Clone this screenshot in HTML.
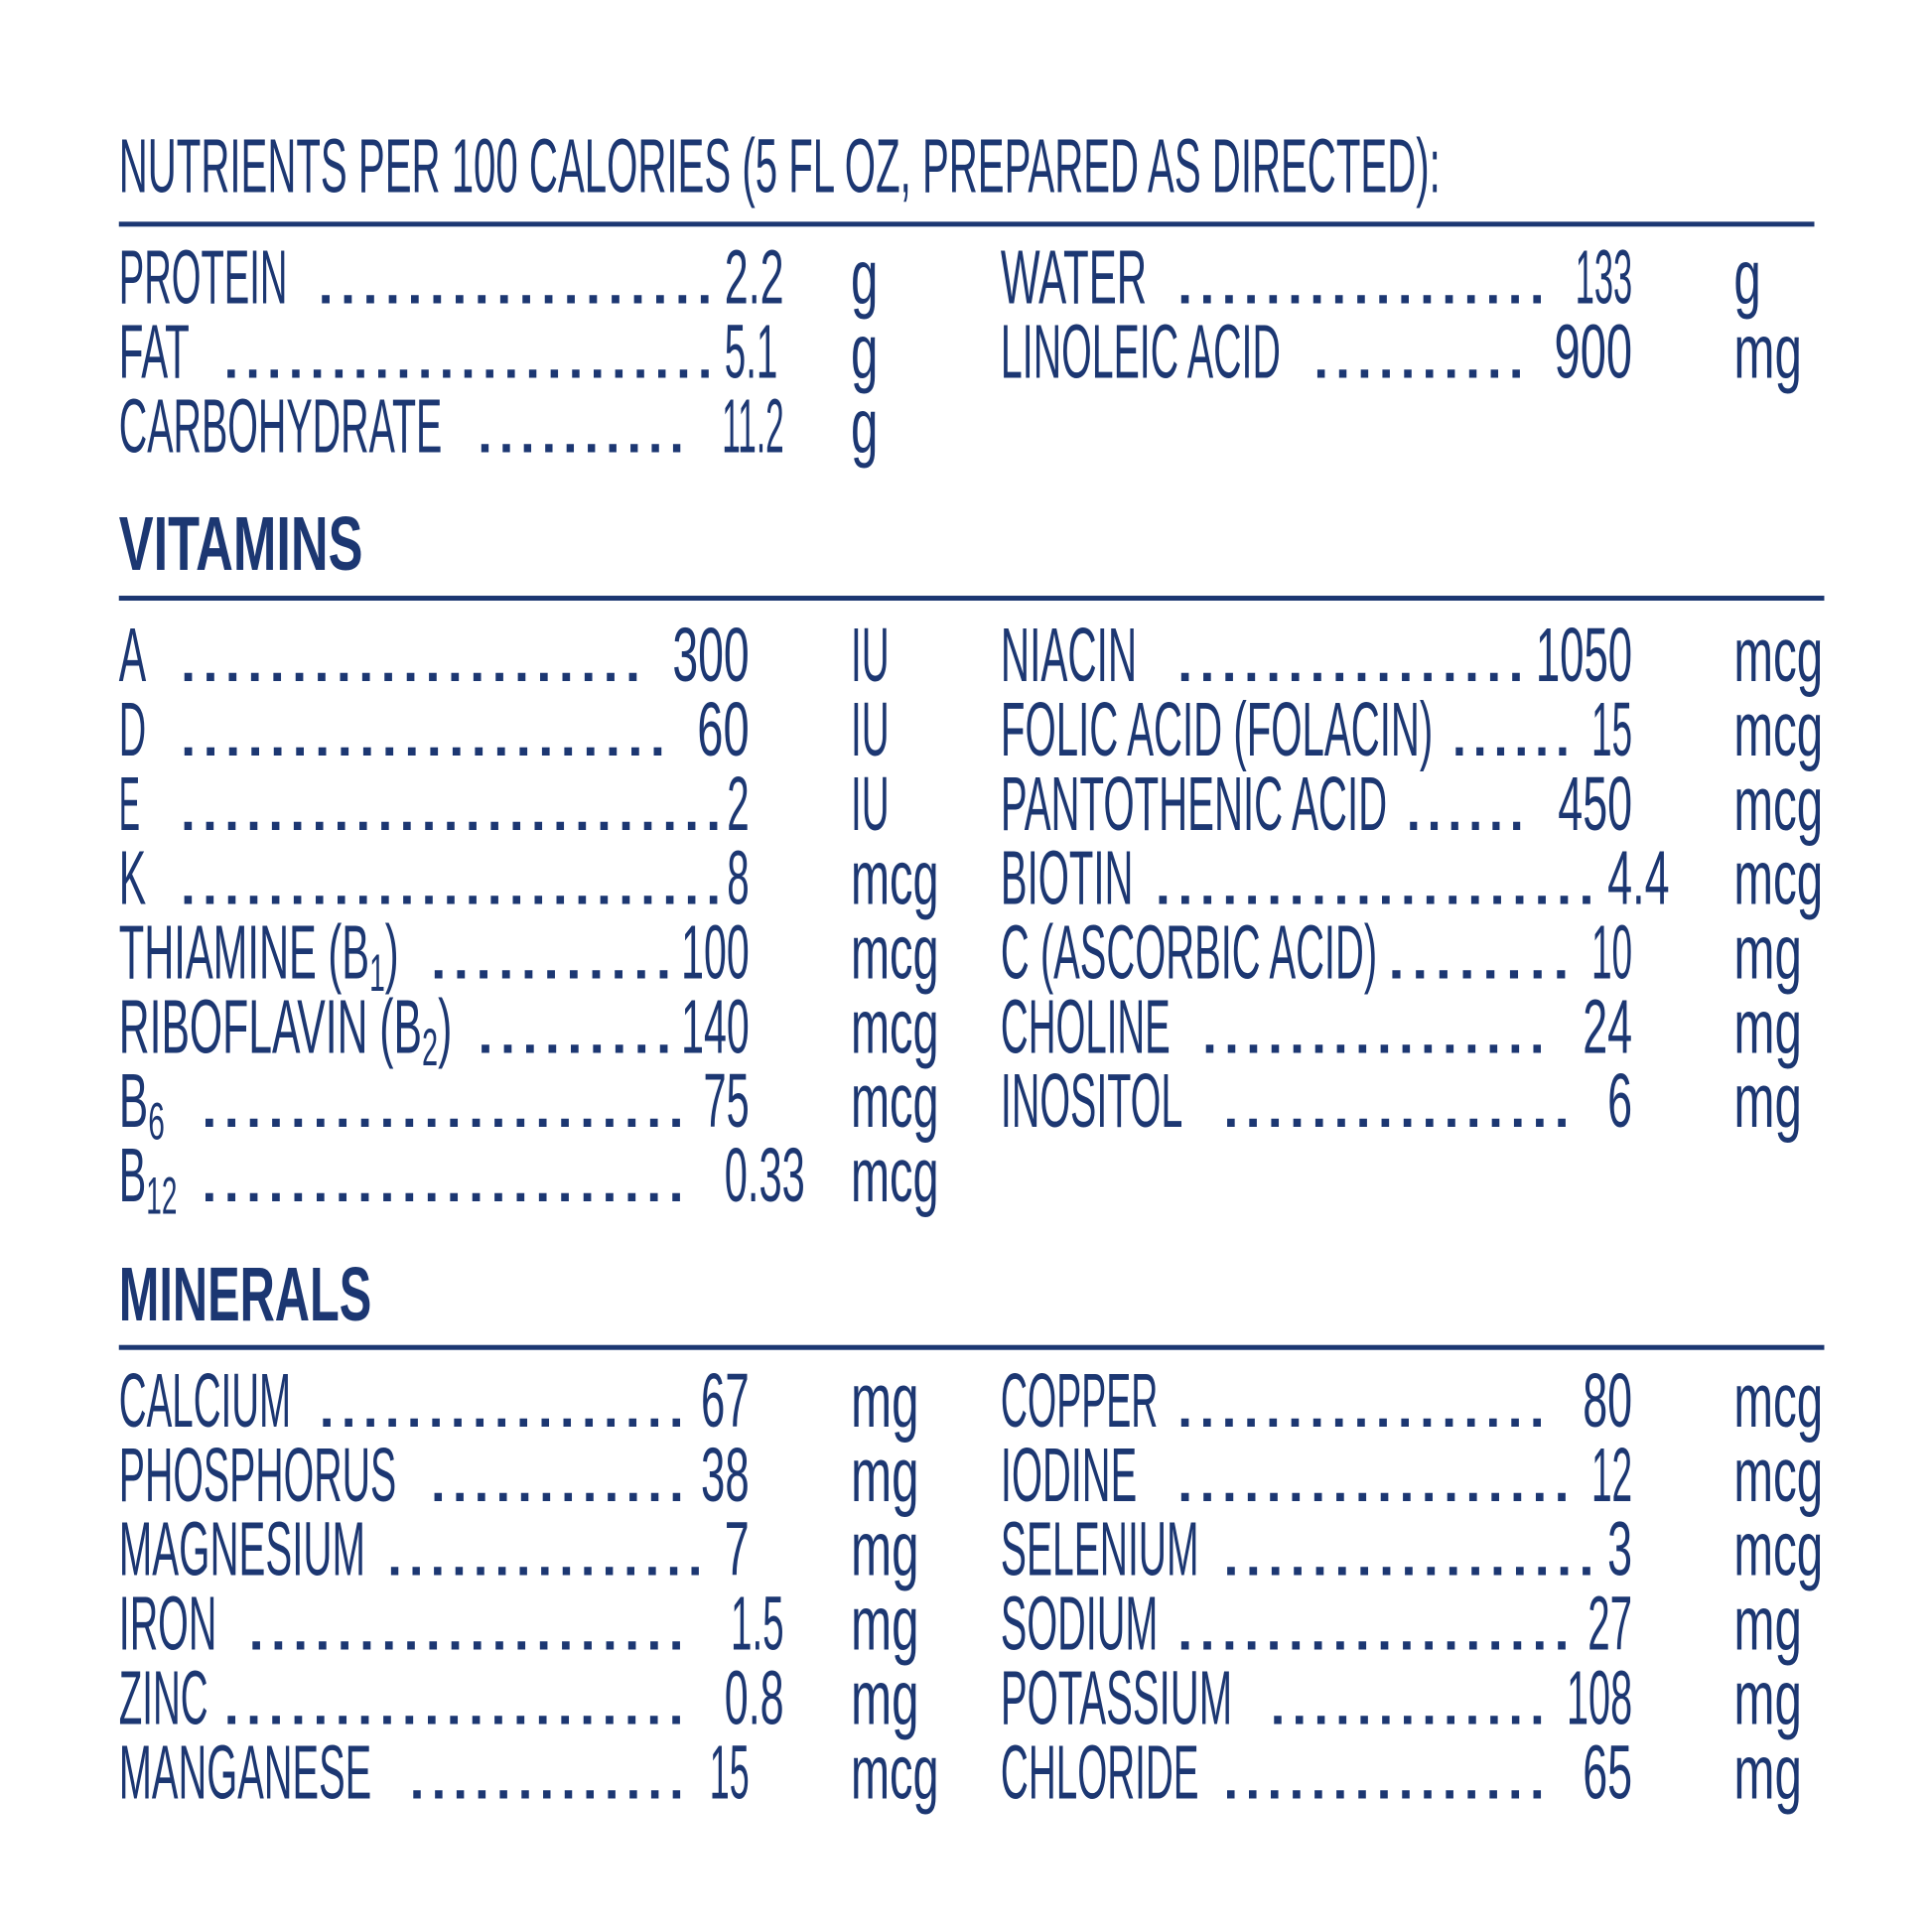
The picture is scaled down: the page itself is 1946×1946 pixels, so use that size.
<!DOCTYPE html>
<html><head><meta charset="utf-8"><style>
html,body{margin:0;padding:0;background:#fff;}
svg{display:block}
text{font-family:"Liberation Sans Narrow","Liberation Sans",sans-serif;font-size:62px;fill:#1c3772;}
.b{font-weight:bold}
</style></head><body>
<svg width="1946" height="1946" viewBox="0 0 1560 1560" xmlns="http://www.w3.org/2000/svg">
<rect width="1560" height="1560" fill="#fff"/>
<g lengthAdjust="spacingAndGlyphs">
<text x="96" y="155" textLength="1067" lengthAdjust="spacingAndGlyphs">NUTRIENTS PER 100 CALORIES (5 FL OZ, PREPARED AS DIRECTED):</text>
<rect x="96" y="179" width="1369" height="4" fill="#1c3772"/>

<text x="96" y="245" textLength="136" lengthAdjust="spacingAndGlyphs">PROTEIN</text>
<text x="254" y="245" textLength="324" lengthAdjust="spacingAndGlyphs">..................</text>
<text x="585" y="245" textLength="48" lengthAdjust="spacingAndGlyphs">2.2</text>
<text x="687" y="245" textLength="22" lengthAdjust="spacingAndGlyphs">g</text>
<text x="96" y="305" textLength="57" lengthAdjust="spacingAndGlyphs">FAT</text>
<text x="178" y="305" textLength="400" lengthAdjust="spacingAndGlyphs">.......................</text>
<text x="585" y="305" textLength="43" lengthAdjust="spacingAndGlyphs">5.1</text>
<text x="687" y="305" textLength="22" lengthAdjust="spacingAndGlyphs">g</text>
<text x="96" y="365" textLength="261" lengthAdjust="spacingAndGlyphs">CARBOHYDRATE</text>
<text x="383" y="365" textLength="172" lengthAdjust="spacingAndGlyphs">..........</text>
<text x="583" y="365" textLength="50" lengthAdjust="spacingAndGlyphs">11.2</text>
<text x="687" y="365" textLength="22" lengthAdjust="spacingAndGlyphs">g</text>

<text x="808" y="245" textLength="118" lengthAdjust="spacingAndGlyphs">WATER</text>
<text x="948" y="245" textLength="302" lengthAdjust="spacingAndGlyphs">.................</text>
<text x="1272" y="245" textLength="46" lengthAdjust="spacingAndGlyphs">133</text>
<text x="1400" y="245" textLength="22" lengthAdjust="spacingAndGlyphs">g</text>
<text x="808" y="305" textLength="226" lengthAdjust="spacingAndGlyphs">LINOLEIC ACID</text>
<text x="1058" y="305" textLength="175" lengthAdjust="spacingAndGlyphs">..........</text>
<text x="1255" y="305" textLength="63" lengthAdjust="spacingAndGlyphs">900</text>
<text x="1400" y="305" textLength="55" lengthAdjust="spacingAndGlyphs">mg</text>

<text class="b" x="96" y="460" textLength="197" lengthAdjust="spacingAndGlyphs">VITAMINS</text>
<rect x="96" y="481" width="1377" height="4" fill="#1c3772"/>

<text x="96" y="550" textLength="22" lengthAdjust="spacingAndGlyphs">A</text>
<text x="143" y="550" textLength="377" lengthAdjust="spacingAndGlyphs">.....................</text>
<text x="543" y="550" textLength="62" lengthAdjust="spacingAndGlyphs">300</text>
<text x="687" y="550" textLength="31" lengthAdjust="spacingAndGlyphs">IU</text>
<text x="96" y="610" textLength="22" lengthAdjust="spacingAndGlyphs">D</text>
<text x="143" y="610" textLength="397" lengthAdjust="spacingAndGlyphs">......................</text>
<text x="563" y="610" textLength="42" lengthAdjust="spacingAndGlyphs">60</text>
<text x="687" y="610" textLength="31" lengthAdjust="spacingAndGlyphs">IU</text>
<text x="96" y="670" textLength="17" lengthAdjust="spacingAndGlyphs">E</text>
<text x="143" y="670" textLength="442" lengthAdjust="spacingAndGlyphs">.........................</text>
<text x="587" y="670" textLength="18" lengthAdjust="spacingAndGlyphs">2</text>
<text x="687" y="670" textLength="31" lengthAdjust="spacingAndGlyphs">IU</text>
<text x="96" y="730" textLength="22" lengthAdjust="spacingAndGlyphs">K</text>
<text x="143" y="730" textLength="442" lengthAdjust="spacingAndGlyphs">.........................</text>
<text x="587" y="730" textLength="18" lengthAdjust="spacingAndGlyphs">8</text>
<text x="687" y="730" textLength="71" lengthAdjust="spacingAndGlyphs">mcg</text>
<text x="96" y="790" textLength="226" lengthAdjust="spacingAndGlyphs">THIAMINE (B<tspan font-size="42" dy="10">1</tspan><tspan dy="-10">)</tspan></text>
<text x="345" y="790" textLength="200" lengthAdjust="spacingAndGlyphs">...........</text>
<text x="550" y="790" textLength="55" lengthAdjust="spacingAndGlyphs">100</text>
<text x="687" y="790" textLength="71" lengthAdjust="spacingAndGlyphs">mcg</text>
<text x="96" y="850" textLength="269" lengthAdjust="spacingAndGlyphs">RIBOFLAVIN (B<tspan font-size="42" dy="10">2</tspan><tspan dy="-10">)</tspan></text>
<text x="383" y="850" textLength="162" lengthAdjust="spacingAndGlyphs">.........</text>
<text x="550" y="850" textLength="55" lengthAdjust="spacingAndGlyphs">140</text>
<text x="687" y="850" textLength="71" lengthAdjust="spacingAndGlyphs">mcg</text>
<text x="96" y="910" textLength="37" lengthAdjust="spacingAndGlyphs">B<tspan font-size="42" dy="10">6</tspan></text>
<text x="160" y="910" textLength="395" lengthAdjust="spacingAndGlyphs">......................</text>
<text x="568" y="910" textLength="37" lengthAdjust="spacingAndGlyphs">75</text>
<text x="687" y="910" textLength="71" lengthAdjust="spacingAndGlyphs">mcg</text>
<text x="96" y="970" textLength="47" lengthAdjust="spacingAndGlyphs">B<tspan font-size="42" dy="10">12</tspan></text>
<text x="160" y="970" textLength="395" lengthAdjust="spacingAndGlyphs">......................</text>
<text x="585" y="970" textLength="65" lengthAdjust="spacingAndGlyphs">0.33</text>
<text x="687" y="970" textLength="71" lengthAdjust="spacingAndGlyphs">mcg</text>

<text x="808" y="550" textLength="110" lengthAdjust="spacingAndGlyphs">NIACIN</text>
<text x="948" y="550" textLength="285" lengthAdjust="spacingAndGlyphs">................</text>
<text x="1240" y="550" textLength="78" lengthAdjust="spacingAndGlyphs">1050</text>
<text x="1400" y="550" textLength="72" lengthAdjust="spacingAndGlyphs">mcg</text>
<text x="808" y="610" textLength="349" lengthAdjust="spacingAndGlyphs">FOLIC ACID (FOLACIN)</text>
<text x="1170" y="610" textLength="100" lengthAdjust="spacingAndGlyphs">......</text>
<text x="1285" y="610" textLength="33" lengthAdjust="spacingAndGlyphs">15</text>
<text x="1400" y="610" textLength="72" lengthAdjust="spacingAndGlyphs">mcg</text>
<text x="808" y="670" textLength="312" lengthAdjust="spacingAndGlyphs">PANTOTHENIC ACID</text>
<text x="1133" y="670" textLength="100" lengthAdjust="spacingAndGlyphs">......</text>
<text x="1258" y="670" textLength="60" lengthAdjust="spacingAndGlyphs">450</text>
<text x="1400" y="670" textLength="72" lengthAdjust="spacingAndGlyphs">mcg</text>
<text x="808" y="730" textLength="107" lengthAdjust="spacingAndGlyphs">BIOTIN</text>
<text x="930" y="730" textLength="360" lengthAdjust="spacingAndGlyphs">....................</text>
<text x="1298" y="730" textLength="50" lengthAdjust="spacingAndGlyphs">4.4</text>
<text x="1400" y="730" textLength="72" lengthAdjust="spacingAndGlyphs">mcg</text>
<text x="808" y="790" textLength="304" lengthAdjust="spacingAndGlyphs">C (ASCORBIC ACID)</text>
<text x="1118" y="790" textLength="152" lengthAdjust="spacingAndGlyphs">........</text>
<text x="1285" y="790" textLength="33" lengthAdjust="spacingAndGlyphs">10</text>
<text x="1400" y="790" textLength="55" lengthAdjust="spacingAndGlyphs">mg</text>
<text x="808" y="850" textLength="137" lengthAdjust="spacingAndGlyphs">CHOLINE</text>
<text x="968" y="850" textLength="282" lengthAdjust="spacingAndGlyphs">................</text>
<text x="1278" y="850" textLength="40" lengthAdjust="spacingAndGlyphs">24</text>
<text x="1400" y="850" textLength="55" lengthAdjust="spacingAndGlyphs">mg</text>
<text x="808" y="910" textLength="147" lengthAdjust="spacingAndGlyphs">INOSITOL</text>
<text x="985" y="910" textLength="285" lengthAdjust="spacingAndGlyphs">................</text>
<text x="1298" y="910" textLength="20" lengthAdjust="spacingAndGlyphs">6</text>
<text x="1400" y="910" textLength="55" lengthAdjust="spacingAndGlyphs">mg</text>

<text class="b" x="96" y="1066" textLength="204" lengthAdjust="spacingAndGlyphs">MINERALS</text>
<rect x="96" y="1086" width="1377" height="4" fill="#1c3772"/>

<text x="96" y="1152" textLength="139" lengthAdjust="spacingAndGlyphs">CALCIUM</text>
<text x="255" y="1152" textLength="300" lengthAdjust="spacingAndGlyphs">.................</text>
<text x="566" y="1152" textLength="39" lengthAdjust="spacingAndGlyphs">67</text>
<text x="687" y="1152" textLength="55" lengthAdjust="spacingAndGlyphs">mg</text>
<text x="96" y="1212" textLength="224" lengthAdjust="spacingAndGlyphs">PHOSPHORUS</text>
<text x="345" y="1212" textLength="210" lengthAdjust="spacingAndGlyphs">............</text>
<text x="566" y="1212" textLength="39" lengthAdjust="spacingAndGlyphs">38</text>
<text x="687" y="1212" textLength="55" lengthAdjust="spacingAndGlyphs">mg</text>
<text x="96" y="1272" textLength="199" lengthAdjust="spacingAndGlyphs">MAGNESIUM</text>
<text x="310" y="1272" textLength="260" lengthAdjust="spacingAndGlyphs">...............</text>
<text x="585" y="1272" textLength="20" lengthAdjust="spacingAndGlyphs">7</text>
<text x="687" y="1272" textLength="55" lengthAdjust="spacingAndGlyphs">mg</text>
<text x="96" y="1332" textLength="79" lengthAdjust="spacingAndGlyphs">IRON</text>
<text x="198" y="1332" textLength="357" lengthAdjust="spacingAndGlyphs">....................</text>
<text x="590" y="1332" textLength="43" lengthAdjust="spacingAndGlyphs">1.5</text>
<text x="687" y="1332" textLength="55" lengthAdjust="spacingAndGlyphs">mg</text>
<text x="96" y="1392" textLength="72" lengthAdjust="spacingAndGlyphs">ZINC</text>
<text x="178" y="1392" textLength="377" lengthAdjust="spacingAndGlyphs">.....................</text>
<text x="585" y="1392" textLength="48" lengthAdjust="spacingAndGlyphs">0.8</text>
<text x="687" y="1392" textLength="55" lengthAdjust="spacingAndGlyphs">mg</text>
<text x="96" y="1452" textLength="204" lengthAdjust="spacingAndGlyphs">MANGANESE</text>
<text x="328" y="1452" textLength="227" lengthAdjust="spacingAndGlyphs">.............</text>
<text x="573" y="1452" textLength="32" lengthAdjust="spacingAndGlyphs">15</text>
<text x="687" y="1452" textLength="71" lengthAdjust="spacingAndGlyphs">mcg</text>

<text x="808" y="1152" textLength="127" lengthAdjust="spacingAndGlyphs">COPPER</text>
<text x="948" y="1152" textLength="302" lengthAdjust="spacingAndGlyphs">.................</text>
<text x="1278" y="1152" textLength="40" lengthAdjust="spacingAndGlyphs">80</text>
<text x="1400" y="1152" textLength="72" lengthAdjust="spacingAndGlyphs">mcg</text>
<text x="808" y="1212" textLength="110" lengthAdjust="spacingAndGlyphs">IODINE</text>
<text x="948" y="1212" textLength="322" lengthAdjust="spacingAndGlyphs">..................</text>
<text x="1285" y="1212" textLength="33" lengthAdjust="spacingAndGlyphs">12</text>
<text x="1400" y="1212" textLength="72" lengthAdjust="spacingAndGlyphs">mcg</text>
<text x="808" y="1272" textLength="160" lengthAdjust="spacingAndGlyphs">SELENIUM</text>
<text x="985" y="1272" textLength="305" lengthAdjust="spacingAndGlyphs">.................</text>
<text x="1298" y="1272" textLength="20" lengthAdjust="spacingAndGlyphs">3</text>
<text x="1400" y="1272" textLength="72" lengthAdjust="spacingAndGlyphs">mcg</text>
<text x="808" y="1332" textLength="127" lengthAdjust="spacingAndGlyphs">SODIUM</text>
<text x="948" y="1332" textLength="322" lengthAdjust="spacingAndGlyphs">..................</text>
<text x="1282" y="1332" textLength="36" lengthAdjust="spacingAndGlyphs">27</text>
<text x="1400" y="1332" textLength="55" lengthAdjust="spacingAndGlyphs">mg</text>
<text x="808" y="1392" textLength="187" lengthAdjust="spacingAndGlyphs">POTASSIUM</text>
<text x="1023" y="1392" textLength="227" lengthAdjust="spacingAndGlyphs">.............</text>
<text x="1265" y="1392" textLength="53" lengthAdjust="spacingAndGlyphs">108</text>
<text x="1400" y="1392" textLength="55" lengthAdjust="spacingAndGlyphs">mg</text>
<text x="808" y="1452" textLength="160" lengthAdjust="spacingAndGlyphs">CHLORIDE</text>
<text x="985" y="1452" textLength="265" lengthAdjust="spacingAndGlyphs">...............</text>
<text x="1278" y="1452" textLength="40" lengthAdjust="spacingAndGlyphs">65</text>
<text x="1400" y="1452" textLength="55" lengthAdjust="spacingAndGlyphs">mg</text>
</g>
</svg>
</body></html>
